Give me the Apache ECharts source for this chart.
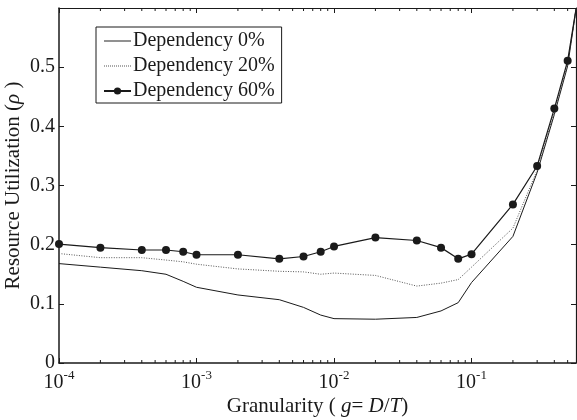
<!DOCTYPE html>
<html>
<head>
<meta charset="utf-8">
<script src="https://cdn.jsdelivr.net/npm/echarts@6/dist/echarts.min.js"></script>
<style>
  html, body { margin: 0; padding: 0; background: #fff; }
  #chart { width: 577px; height: 420px; }
</style>
</head>
<body>
<div id="chart"></div>
<script>
// Granularity values g = D/T (shared by all three curves)
const granularity = [1e-4, 2e-4, 4e-4, 6e-4, 8e-4, 1e-3, 2e-3, 4e-3, 6e-3, 8e-3,
                     1e-2, 2e-2, 4e-2, 6e-2, 8e-2, 1e-1, 2e-1, 3e-1, 4e-1, 5e-1, 0.575];

// Resource utilization for each dependency level
const dep0 = [0.168, 0.162, 0.156, 0.150, 0.138, 0.128, 0.115, 0.107, 0.094, 0.081,
              0.075, 0.074, 0.077, 0.088, 0.102, 0.136, 0.214, 0.322, 0.420, 0.502, 0.598];
const dep20 = [0.185, 0.178, 0.178, 0.174, 0.171, 0.167, 0.159, 0.155, 0.154, 0.150,
               0.152, 0.148, 0.130, 0.135, 0.141, 0.162, 0.228, 0.326, 0.425, 0.506, 0.598];
const dep60 = [0.201, 0.195, 0.191, 0.191, 0.188, 0.183, 0.183, 0.176, 0.180, 0.188,
               0.197, 0.212, 0.207, 0.195, 0.176, 0.184, 0.268, 0.333, 0.430, 0.511, 0.598];

const seriesNames = ['Dependency 0%', 'Dependency 20%', 'Dependency 60%'];

// Axis ranges
const xMin = 1e-4, xMax = 0.575;
const yMin = 0, yMax = 0.6, yStep = 0.1;

// Minor tick positions on the logarithmic axis (2..9 times each decade)
const minorTicks = [];
[1e-4, 1e-3, 1e-2, 1e-1].forEach(function (d) {
  for (let k = 2; k <= 9; k++) {
    const v = k * d;
    if (v < xMax) minorTicks.push(v);
  }
});

const FONT = 'Liberation Serif';
const FS = 20;
const NAME_FS = 21;
const INK = '#1a1a1a';
const DOT_GREY = '#555';

// Legend swatches: a plain stroke and a dotted stroke (bars of 1 unit height)
const solidSwatch = 'path://M0,0H28V1H0Z';
let dottedSwatch = 'path://';
for (let i = 0; i < 14; i++) dottedSwatch += 'M' + (i * 2) + ',0h1v1h-1Z';

function pairs(ys) {
  return granularity.map(function (g, i) {
    const item = { value: [g, ys[i]] };
    if (i === granularity.length - 1) item.symbol = 'none';
    return item;
  });
}

function powLabel(v) {
  const e = Math.round(Math.log10(v));
  if (Math.abs(Math.log10(v) - e) > 1e-6) return '';
  return '{b|10}{s|' + e + '}';
}

const chart = echarts.init(document.getElementById('chart'), null, { renderer: 'canvas' });

chart.setOption({
  animation: false,
  backgroundColor: '#fff',
  textStyle: { fontFamily: FONT },
  grid: { left: 59, right: 1, top: 8, bottom: 57, containLabel: false, outerBoundsMode: 'none' },
  legend: {
    orient: 'vertical',
    left: 96,
    top: 27,
    data: [
      { name: seriesNames[0], icon: solidSwatch, itemStyle: { color: INK } },
      { name: seriesNames[1], icon: dottedSwatch, itemStyle: { color: DOT_GREY } },
      { name: seriesNames[2] }
    ],
    symbolKeepAspect: true,
    backgroundColor: '#fff',
    borderColor: INK,
    borderWidth: 1,
    borderRadius: 0,
    padding: [4, 7, 2, 7],
    itemWidth: 27,
    itemHeight: 9,
    itemGap: 5,
    textStyle: { fontFamily: FONT, fontSize: FS, color: INK, lineHeight: 20, padding: [0, 0, 0, -3] }
  },
  xAxis: [{
    type: 'log',
    logBase: 10,
    min: xMin,
    max: xMax,
    position: 'bottom',
    name: '{n|Granularity ( }{i|g}{n|= }{i|D}{n|/}{i|T}{n|)}',
    nameLocation: 'middle',
    nameGap: 33,
    nameMoveOverlap: false,
    nameTextStyle: {
      rich: {
        n: { fontFamily: FONT, fontSize: NAME_FS, color: INK },
        i: { fontFamily: FONT, fontSize: NAME_FS, color: INK, fontStyle: 'italic' }
      }
    },
    axisLine: { show: true, onZero: false, lineStyle: { color: INK, width: 1.5 } },
    axisTick: { show: true, inside: true, length: 5, lineStyle: { color: INK } },
    splitLine: { show: false },
    axisLabel: {
      margin: 10,
      formatter: powLabel,
      rich: {
        b: { fontFamily: FONT, fontSize: FS, color: INK, lineHeight: 20 },
        s: { fontFamily: FONT, fontSize: 13, color: INK, lineHeight: 13, padding: [0, 0, 15, 0] }
      }
    }
  }, {
    type: 'log',
    logBase: 10,
    min: xMin,
    max: xMax,
    position: 'top',
    axisLine: { show: true, onZero: false, lineStyle: { color: INK, width: 1.2 } },
    axisTick: { show: true, inside: true, length: 5, lineStyle: { color: INK } },
    axisLabel: { show: false },
    splitLine: { show: false }
  }],
  yAxis: [{
    type: 'value',
    min: yMin,
    max: yMax,
    interval: yStep,
    position: 'left',
    name: '{n|Resource Utilization (}{i|ρ}{n| )}',
    nameLocation: 'middle',
    nameGap: 35,
    nameMoveOverlap: false,
    nameTextStyle: {
      rich: {
        n: { fontFamily: FONT, fontSize: NAME_FS, color: INK },
        i: { fontFamily: FONT, fontSize: NAME_FS, color: INK, fontStyle: 'italic' }
      }
    },
    axisLine: { show: true, onZero: false, lineStyle: { color: INK, width: 1.5 } },
    axisTick: { show: true, inside: true, length: 5, lineStyle: { color: INK } },
    splitLine: { show: false },
    axisLabel: {
      margin: 4,
      fontFamily: FONT,
      fontSize: FS,
      color: INK,
      formatter: function (v) {
        if (v > yMax - yStep / 2) return '';
        return v === 0 ? '0' : v.toFixed(1);
      }
    }
  }, {
    type: 'value',
    min: yMin,
    max: yMax,
    interval: yStep,
    position: 'right',
    axisLine: { show: true, onZero: false, lineStyle: { color: INK, width: 1.2 } },
    axisTick: { show: true, inside: true, length: 5, lineStyle: { color: INK } },
    axisLabel: { show: false },
    splitLine: { show: false }
  }],
  series: [{
    name: seriesNames[0],
    type: 'line',
    data: pairs(dep0),
    symbol: 'none',
    color: INK,
    lineStyle: { color: INK, width: 1 },
    z: 3
  }, {
    name: seriesNames[1],
    type: 'line',
    data: pairs(dep20),
    symbol: 'none',
    color: DOT_GREY,
    lineStyle: { color: DOT_GREY, width: 1, type: [1, 1.5] },
    z: 3
  }, {
    name: seriesNames[2],
    type: 'line',
    data: pairs(dep60),
    symbol: 'circle',
    symbolSize: 8,
    color: INK,
    itemStyle: { color: INK },
    lineStyle: { color: INK, width: 1.2 },
    z: 4
  }, {
    // minor ticks of the log axis, drawn inward on the bottom and top edges
    type: 'custom',
    silent: true,
    clip: false,
    data: minorTicks.map(function (v) { return [v, yMin]; }),
    encode: { x: 0, y: 1 },
    renderItem: function (params, api) {
      const x = api.value(0);
      const b = api.coord([x, yMin]);
      const t = api.coord([x, yMax]);
      const style = { stroke: INK, lineWidth: 1 };
      return {
        type: 'group',
        children: [
          { type: 'line', shape: { x1: b[0], y1: b[1], x2: b[0], y2: b[1] - 3 }, style: style },
          { type: 'line', shape: { x1: t[0], y1: t[1], x2: t[0], y2: t[1] + 3 }, style: style }
        ]
      };
    },
    z: 5
  }]
});
</script>
</body>
</html>
